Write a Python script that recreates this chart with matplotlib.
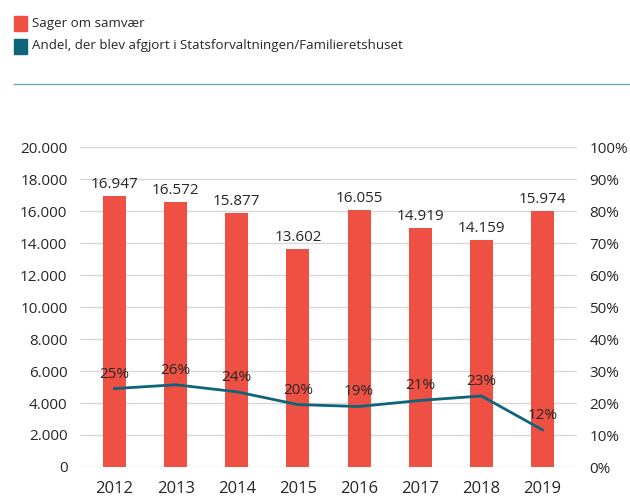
import matplotlib.pyplot as plt
import matplotlib.patches as mpatches
from matplotlib.ticker import FuncFormatter

years = ['2012', '2013', '2014', '2015', '2016', '2017', '2018', '2019']
cases = [16947, 16572, 15877, 13602, 16055, 14919, 14159, 15974]
share = [24.5, 25.7, 23.5, 19.5, 18.9, 20.8, 22.2, 11.6]
share_labels = ['25%', '26%', '24%', '20%', '19%', '21%', '23%', '12%']

red = '#ef5044'
teal = '#0e6479'
grid = '#d9d9d9'
txt = '#262626'

plt.rcParams['font.family'] = ['Open Sans', 'DejaVu Sans']

W, H = 630, 499
fig = plt.figure(figsize=(W / 100, H / 100), dpi=100)

# axes box in pixels: left 80, right 577, top 147, bottom 467
ax = fig.add_axes([80 / W, 1 - 467 / H, (577 - 80) / W, (467 - 147) / H])
ax2 = ax.twinx()

x = list(range(len(years)))
ax.bar(x, cases, width=0.376, color=red, zorder=2)
for xi, v in zip(x, cases):
    ax.text(xi, v + 250, f'{v:,}'.replace(',', '.'), ha='center', va='bottom',
            fontsize=11, color=txt, zorder=5)

ax.set_ylim(0, 20000)
ax.set_xlim(-0.564, 7.564)
ax.set_yticks(range(0, 20001, 2000))
ax.yaxis.set_major_formatter(FuncFormatter(lambda v, p: f'{int(v):,}'.replace(',', '.')))
ax.set_xticks(x)
ax.set_xticklabels(years)
ax.grid(axis='y', color=grid, linewidth=1, zorder=0)
ax.set_axisbelow(True)
for s in ax.spines.values():
    s.set_visible(False)
ax.tick_params(axis='both', length=0, colors=txt)
ax.tick_params(axis='y', pad=9, labelsize=11)
ax.tick_params(axis='x', pad=10, labelsize=12)

ax2.plot(x, share, color=teal, linewidth=2, zorder=3)
for xi, v, lab in zip(x, share, share_labels):
    ax2.text(xi, v + 2.2, lab, ha='center', va='bottom', fontsize=11, color=txt)
ax2.set_ylim(0, 100)
ax2.set_yticks(range(0, 101, 10))
ax2.yaxis.set_major_formatter(FuncFormatter(lambda v, p: f'{int(v)}%'))
for s in ax2.spines.values():
    s.set_visible(False)
ax2.tick_params(axis='y', length=0, labelsize=11, colors=txt, pad=9)

# legend at top
fig.patches.append(mpatches.Rectangle((14 / W, 1 - 31 / H), 13 / W, 15 / H,
                                      transform=fig.transFigure, color=red))
fig.patches.append(mpatches.Rectangle((14 / W, 1 - 54 / H), 13 / W, 15 / H,
                                      transform=fig.transFigure, color=teal))
fig.text(32 / W, 1 - 23 / H, 'Sager om samvær', fontsize=9.6, color=txt, va='center')
fig.text(32 / W, 1 - 46 / H, 'Andel, der blev afgjort i Statsforvaltningen/Familieretshuset',
         fontsize=9.6, color=txt, va='center')
fig.add_artist(plt.Line2D([14 / W, 1], [1 - 84 / H, 1 - 84 / H], color='#6aa7b5',
                          linewidth=1, transform=fig.transFigure))

fig.savefig('out.png', dpi=100)
